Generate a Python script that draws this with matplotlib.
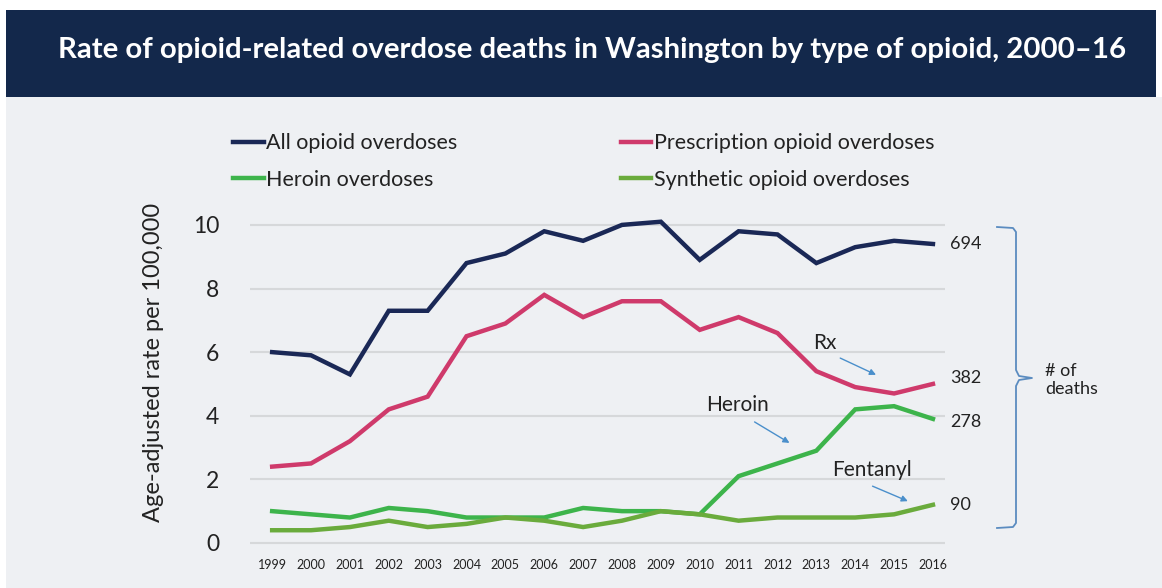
import matplotlib.pyplot as plt
from matplotlib.patches import Rectangle

plt.rcParams['font.family'] = ['Lato', 'DejaVu Sans']

years = list(range(1999, 2017))
all_opioid = [6.0, 5.9, 5.3, 7.3, 7.3, 8.8, 9.1, 9.8, 9.5, 10.0, 10.1, 8.9, 9.8, 9.7, 8.8, 9.3, 9.5, 9.4]
prescription = [2.4, 2.5, 3.2, 4.2, 4.6, 6.5, 6.9, 7.8, 7.1, 7.6, 7.6, 6.7, 7.1, 6.6, 5.4, 4.9, 4.7, 5.0]
heroin = [1.0, 0.9, 0.8, 1.1, 1.0, 0.8, 0.8, 0.8, 1.1, 1.0, 1.0, 0.9, 2.1, 2.5, 2.9, 4.2, 4.3, 3.9]
synthetic = [0.4, 0.4, 0.5, 0.7, 0.5, 0.6, 0.8, 0.7, 0.5, 0.7, 1.0, 0.9, 0.7, 0.8, 0.8, 0.8, 0.9, 1.2]

end_labels = ['694', '382', '278', '90']
end_label_y = [9.4, 5.2, 3.8, 1.2]

W, H = 1162, 588
fig = plt.figure(figsize=(W / 100, H / 100), dpi=100, facecolor='white')

# background + title banner
fig.patches.append(Rectangle((6 / W, 0), 1 - 6 / W, 1 - 97 / H, transform=fig.transFigure,
                             facecolor='#eef0f3', edgecolor='none', zorder=-10))
fig.patches.append(Rectangle((6 / W, 1 - 97 / H), 1150 / W, 87 / H, transform=fig.transFigure,
                             facecolor='#13284b', edgecolor='none', zorder=-5))
fig.text(592 / W, 1 - 50 / H, 'Rate of opioid-related overdose deaths in Washington by type of opioid, 2000\u201316',
         color='white', fontsize=21.2, fontweight='bold', ha='center', va='center')

ax = fig.add_axes([250 / W, 1 - 552.5 / H, 695 / W, 343.5 / H])
ax.set_facecolor('none')

c_all = '#1a2856'
c_rx = '#cf3a6b'
c_her = '#3db44b'
c_syn = '#6aab3c'

l1, = ax.plot(years, all_opioid, color=c_all, lw=3.2, solid_joinstyle='miter', label='All opioid overdoses')
l2, = ax.plot(years, prescription, color=c_rx, lw=3.2, solid_joinstyle='miter', label='Prescription opioid overdoses')
l3, = ax.plot(years, heroin, color=c_her, lw=3.2, solid_joinstyle='miter', label='Heroin overdoses')
l4, = ax.plot(years, synthetic, color=c_syn, lw=3.2, solid_joinstyle='miter', label='Synthetic opioid overdoses')

ax.set_xlim(1998.43, 2016.31)
ax.set_ylim(-0.3, 10.5)
ax.set_yticks([0, 2, 4, 6, 8, 10])
ax.set_xticks(years)
ax.tick_params(axis='y', length=0, pad=22, labelsize=16.5, labelcolor='#222222')
ax.tick_params(axis='x', length=0, pad=5, labelsize=9, labelcolor='#222222')
ax.grid(axis='y', color='#d6d8da', lw=1.5)
ax.set_axisbelow(True)
for s in ax.spines.values():
    s.set_visible(False)

fig.text(153 / W, 1 - 362 / H, 'Age-adjusted rate per 100,000', rotation=90,
         ha='center', va='center', fontsize=17, color='#222222')

fig.legend([l1, l3, l2, l4], [l1.get_label(), l3.get_label(), l2.get_label(), l4.get_label()],
           ncol=2, frameon=False, loc='upper left', bbox_to_anchor=(214 / W, 1 - 114 / H),
           fontsize=15.5, handlelength=1.4, handletextpad=0.12, columnspacing=7.6,
           labelspacing=0.75, labelcolor='#222222')

# end-of-line death counts
for lab, yv in zip(end_labels, end_label_y):
    ax.text(2016.45, yv, lab, ha='left', va='center', fontsize=13, color='#222222')

# annotations with arrows
arrow = dict(arrowstyle='-|>', color='#4a8fcb', lw=1, mutation_scale=9)
ax.text(2013.22, 6.3, 'Rx', ha='center', va='center', fontsize=15, color='#222222')
ax.annotate('', xy=(2014.6, 5.25), xytext=(2013.55, 5.85), arrowprops=arrow)
ax.text(2010.98, 4.35, 'Heroin', ha='center', va='center', fontsize=15, color='#222222')
ax.annotate('', xy=(2012.37, 3.1), xytext=(2011.35, 3.85), arrowprops=arrow)
ax.text(2014.43, 2.3, 'Fentanyl', ha='center', va='center', fontsize=15, color='#222222')
ax.annotate('', xy=(2015.42, 1.28), xytext=(2014.38, 1.82), arrowprops=arrow)

# bracket for "# of deaths"
bx = [997 / W, 1013 / W, 1016 / W, 1016 / W, 1019 / W, 1032 / W, 1019 / W, 1016 / W, 1016 / W, 1013 / W, 997 / W]
by = [227, 228, 232, 370, 376, 378, 380, 386, 523, 527, 528]
fig.add_artist(plt.Line2D(bx, [1 - v / H for v in by], transform=fig.transFigure,
                          color='#5b8cc0', lw=1.3))
fig.text(1045 / W, 1 - 380 / H, '# of\ndeaths', ha='left', va='center', fontsize=13,
         color='#222222', linespacing=1.1)

fig.savefig('out.png', dpi=100, facecolor=fig.get_facecolor())
